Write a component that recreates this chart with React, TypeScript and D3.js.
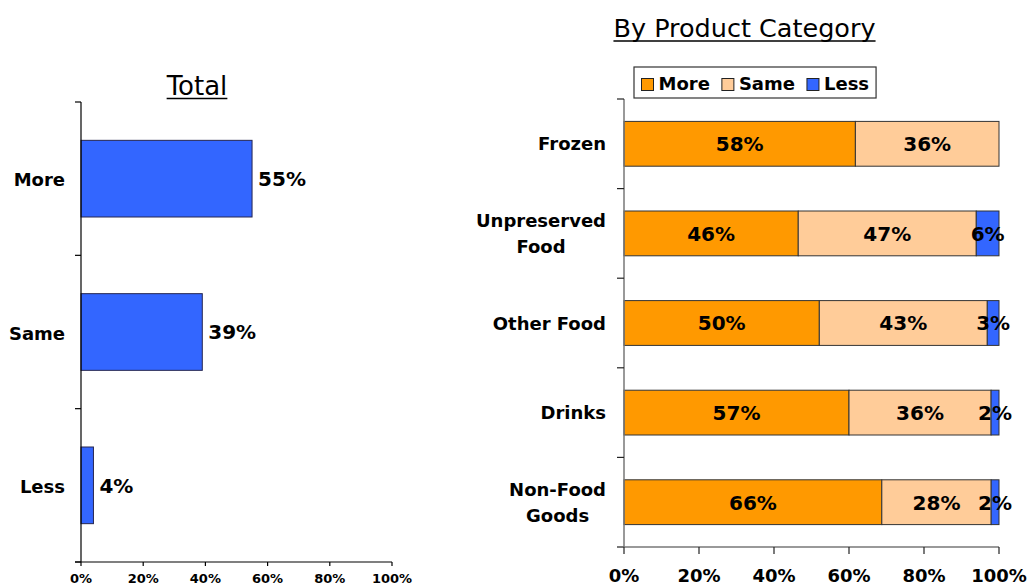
import React, { useEffect, useRef } from 'react';
import * as d3 from 'd3';

// ---- Data ----
const totalCategories = ['More', 'Same', 'Less'];
const totalValues = [55, 39, 4];

const productCategories = ['Frozen', 'Unpreserved Food', 'Other Food', 'Drinks', 'Non-Food Goods'];
const productLabelLines = [['Frozen'], ['Unpreserved', 'Food'], ['Other Food'], ['Drinks'], ['Non-Food', 'Goods']];
const seriesNames = ['More', 'Same', 'Less'];
const moreValues = [58, 46, 50, 57, 66];
const sameValues = [36, 47, 43, 36, 28];
const lessValues = [0, 6, 3, 2, 2];
const seriesColors = ['#FF9900', '#FFCC99', '#3366FF'];
const xTickValues = [0, 0.2, 0.4, 0.6, 0.8, 1];

const W = 1032;
const H = 587;
const FONT = "'DejaVu Sans', Verdana, sans-serif";

export default function App() {
  const ref = useRef<SVGSVGElement | null>(null);

  useEffect(() => {
    const svg = d3.select(ref.current as SVGSVGElement);
    svg.selectAll('*').remove();
    svg.attr('font-family', FONT);
    const fmt = d3.format('.0%');

    // ================= LEFT: Total =================
    const xL = d3.scaleLinear().domain([0, 1]).range([81, 392]);
    const yL = d3.scaleBand<string>().domain(totalCategories).range([102, 562]).paddingInner(0.5).paddingOuter(0.25);
    const gL = svg.append('g');

    const tL = gL.append('text').attr('x', 197).attr('y', 95).attr('text-anchor', 'middle')
      .attr('font-size', 26).attr('fill', '#000').text('Total');
    const twL = (tL.node() as SVGTextElement).getComputedTextLength();
    gL.append('line').attr('x1', 197 - twL / 2).attr('x2', 197 + twL / 2).attr('y1', 98.5).attr('y2', 98.5)
      .attr('stroke', '#000').attr('stroke-width', 1.5);

    const bwL = yL.bandwidth();
    const stepL = yL.step();
    const [y0L, y1L] = yL.range();

    gL.selectAll('rect.bar').data(totalCategories).join('rect').attr('class', 'bar')
      .attr('x', xL(0)).attr('y', (c) => yL(c) as number)
      .attr('width', (_c, i) => xL(totalValues[i] / 100) - xL(0)).attr('height', bwL)
      .attr('fill', '#3366FF').attr('stroke', '#262650').attr('stroke-width', 1);

    gL.selectAll('text.val').data(totalCategories).join('text').attr('class', 'val')
      .attr('x', (_c, i) => xL(totalValues[i] / 100) + 6)
      .attr('y', (c) => (yL(c) as number) + bwL / 2 + 7.3)
      .attr('font-size', 20).attr('font-weight', 'bold').attr('fill', '#000')
      .text((_c, i) => totalValues[i] + '%');

    gL.selectAll('text.cat').data(totalCategories).join('text').attr('class', 'cat')
      .attr('x', 65).attr('y', (c) => (yL(c) as number) + bwL / 2 + 7.5)
      .attr('text-anchor', 'end').attr('font-size', 18).attr('font-weight', 'bold').attr('fill', '#000')
      .text((c) => c);

    // y axis
    gL.append('line').attr('x1', xL(0)).attr('x2', xL(0)).attr('y1', y0L).attr('y2', y1L).attr('stroke', '#000').attr('stroke-width', 1.2);
    d3.range(totalCategories.length + 1).forEach((i) => {
      const y = y0L + i * stepL;
      gL.append('line').attr('x1', xL(0) - 6).attr('x2', xL(0)).attr('y1', y).attr('y2', y).attr('stroke', '#000').attr('stroke-width', 1.2);
    });
    // x axis
    gL.append('line').attr('x1', xL(0) - 6).attr('x2', xL(1)).attr('y1', y1L).attr('y2', y1L).attr('stroke', '#000').attr('stroke-width', 1.2);
    xTickValues.forEach((t) => {
      gL.append('line').attr('x1', xL(t)).attr('x2', xL(t)).attr('y1', y1L).attr('y2', y1L + 4).attr('stroke', '#000').attr('stroke-width', 1.2);
      gL.append('text').attr('x', xL(t)).attr('y', 583).attr('text-anchor', 'middle')
        .attr('font-size', 13).attr('font-weight', 'bold').attr('fill', '#000').text(fmt(t));
    });

    // ================= RIGHT: By Product Category =================
    const xR = d3.scaleLinear().domain([0, 1]).range([624, 999]);
    const yR = d3.scaleBand<string>().domain(productCategories).range([99, 547]).paddingInner(0.5).paddingOuter(0.25);
    const gR = svg.append('g');
    const bwR = yR.bandwidth();
    const stepR = yR.step();
    const [y0R, y1R] = yR.range();

    const tR = gR.append('text').attr('x', 744.5).attr('y', 37).attr('text-anchor', 'middle')
      .attr('font-size', 25.5).attr('fill', '#000').text('By Product Category');
    const twR = (tR.node() as SVGTextElement).getComputedTextLength();
    gR.append('line').attr('x1', 744.5 - twR / 2).attr('x2', 744.5 + twR / 2).attr('y1', 41).attr('y2', 41)
      .attr('stroke', '#000').attr('stroke-width', 1.5);

    const rows = productCategories.map((c, i) => ({ cat: c, More: moreValues[i], Same: sameValues[i], Less: lessValues[i] }));
    const stacked = d3.stack<any>().keys(seriesNames).offset(d3.stackOffsetExpand)(rows);

    stacked.forEach((layer, si) => {
      layer.forEach((d: any) => {
        const w = xR(d[1]) - xR(d[0]);
        if (w <= 0) return;
        gR.append('rect').attr('x', xR(d[0])).attr('y', yR(d.data.cat) as number)
          .attr('width', w).attr('height', bwR)
          .attr('fill', seriesColors[si]).attr('stroke', '#333').attr('stroke-width', 1);
      });
    });
    stacked.forEach((layer) => {
      layer.forEach((d: any) => {
        const v = d.data[layer.key];
        if (!v) return;
        gR.append('text').attr('x', (xR(d[0]) + xR(d[1])) / 2)
          .attr('y', (yR(d.data.cat) as number) + bwR / 2 + 7.3)
          .attr('text-anchor', 'middle').attr('font-size', 20).attr('font-weight', 'bold').attr('fill', '#000')
          .text(v + '%');
      });
    });

    // category labels
    const lh = 25.6;
    productCategories.forEach((c, i) => {
      const lines = productLabelLines[i];
      const cy = (yR(c) as number) + bwR / 2;
      const texts = lines.map((ln, li) =>
        gR.append('text').attr('y', cy + (li - (lines.length - 1) / 2) * lh + 6.5)
          .attr('font-size', 18).attr('font-weight', 'bold').attr('fill', '#000').attr('text-anchor', 'middle').text(ln)
      );
      const maxW = d3.max(texts, (t) => (t.node() as SVGTextElement).getComputedTextLength()) as number;
      texts.forEach((t) => t.attr('x', 606 - maxW / 2));
    });

    // axes
    gR.append('line').attr('x1', xR(0)).attr('x2', xR(0)).attr('y1', y0R).attr('y2', y1R).attr('stroke', '#777').attr('stroke-width', 1.5);
    d3.range(productCategories.length + 1).forEach((i) => {
      const y = y0R + i * stepR;
      gR.append('line').attr('x1', xR(0) - 7).attr('x2', xR(0)).attr('y1', y).attr('y2', y).attr('stroke', '#222').attr('stroke-width', 1.2);
    });
    gR.append('line').attr('x1', xR(0) - 7).attr('x2', xR(1)).attr('y1', y1R).attr('y2', y1R).attr('stroke', '#777').attr('stroke-width', 1.5);
    xTickValues.forEach((t) => {
      gR.append('line').attr('x1', xR(t)).attr('x2', xR(t)).attr('y1', y1R).attr('y2', y1R + 7).attr('stroke', '#222').attr('stroke-width', 1.2);
      gR.append('text').attr('x', xR(t)).attr('y', 582).attr('text-anchor', 'middle')
        .attr('font-size', 18).attr('font-weight', 'bold').attr('fill', '#000').text(fmt(t));
    });

    // legend
    const lg = gR.append('g');
    const box = lg.append('rect').attr('x', 634).attr('y', 67).attr('height', 31).attr('fill', '#fff').attr('stroke', '#333').attr('stroke-width', 1.2);
    let cursor = 641.5;
    seriesNames.forEach((s, i) => {
      lg.append('rect').attr('x', cursor).attr('y', 78.5).attr('width', 12).attr('height', 12)
        .attr('fill', seriesColors[i]).attr('stroke', '#222').attr('stroke-width', 1);
      const tx = lg.append('text').attr('x', cursor + 17).attr('y', 90).attr('font-size', 18)
        .attr('font-weight', 'bold').attr('fill', '#000').text(s);
      const w = (tx.node() as SVGTextElement).getComputedTextLength();
      cursor = cursor + 17 + w + (i < seriesNames.length - 1 ? 12 : 0);
    });
    box.attr('width', cursor + 7 - 634);
  }, []);

  return (
    <svg ref={ref} width={W} height={H} style={{ position: 'absolute', left: 0, top: 0, background: '#fff' }} />
  );
}
